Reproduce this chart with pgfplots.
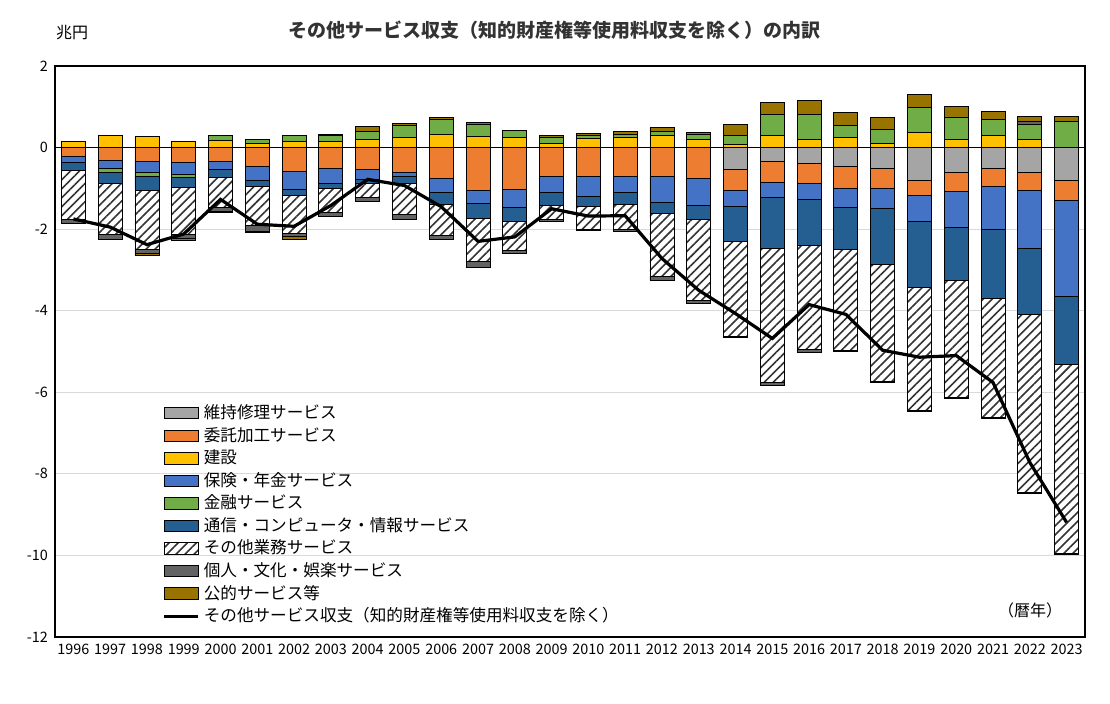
\documentclass[border=0pt]{standalone}
\usepackage{pgfplots}
\pgfplotsset{compat=1.18}
\usepackage{pgfplotstable}
\usepackage{fontspec}
\setmainfont{Noto Sans CJK JP}
\usetikzlibrary{patterns.meta}
\definecolor{cgr}{HTML}{A5A5A5}
\definecolor{cor}{HTML}{ED7D31}
\definecolor{cye}{HTML}{FFC000}
\definecolor{cbl}{HTML}{4472C4}
\definecolor{cgn}{HTML}{70AD47}
\definecolor{cdk}{HTML}{255E91}
\definecolor{cpe}{HTML}{636363}
\definecolor{col}{HTML}{997300}
\pgfplotstableread{
x gr or bl gn dk ht pe ol ye yp gp pp op ln
0 0 .21 .16 0 .20 1.20 .10 0 0 .14 0 0 .02 -1.75
1 0 .31 .19 .10 .29 1.25 .10 0 0 .30 0 0 0 -1.95
2 0 .33 .29 .08 .34 1.45 .10 .06 0 .28 0 0 0 -2.38
3 0 .36 .29 .08 .25 1.16 .08 .06 0 .16 0 0 0 -2.12
4 0 .33 .20 0 .19 .75 .10 .03 0 .18 .12 0 0 -1.27
5 0 .46 .34 0 .16 .94 .15 .04 0 .10 .10 0 0 -1.88
6 0 .58 .45 0 .14 .94 .08 .07 0 .14 .16 0 0 -1.93
7 0 .50 .38 0 .12 .60 .08 0 0 .14 .15 0 .04 -1.42
8 0 .53 .25 0 .09 .34 .12 0 0 .20 .20 0 .12 -0.78
9 0 .60 .10 0 .18 .75 .12 0 0 .25 .29 0 .06 -0.93
10 0 .76 .34 0 .29 .76 .10 0 0 .33 .36 0 .05 -1.45
11 0 1.05 .33 0 .35 1.06 .14 0 0 .28 .29 0 .05 -2.30
12 0 1.02 .44 0 .34 .71 .08 0 0 .24 .19 0 0 -2.19
13 0 .70 .39 0 .32 .34 .07 0 0 .10 .16 0 .04 -1.50
14 0 .70 .49 0 .25 .57 .03 0 0 .22 .08 0 .05 -1.68
15 0 .70 .41 0 .28 .62 .05 0 0 .26 .07 0 .07 -1.67
16 0 .70 .64 0 .27 1.54 .10 0 0 .30 .10 0 .09 -2.72
17 0 .76 .65 0 .34 2.00 .07 0 0 .20 .12 0 .05 -3.50
18 .54 .51 .39 0 .87 2.31 .03 0 0 .08 .22 0 .27 -4.07
19 .33 .53 .37 0 1.24 3.29 .06 0 0 .30 .51 0 .29 -4.68
20 .38 .49 .39 0 1.14 2.56 .06 0 0 .20 .61 0 .34 -3.85
21 .46 .53 .47 0 1.03 2.48 .02 0 0 .24 .31 0 .32 -4.09
22 .50 .49 .51 0 1.36 2.88 .02 0 0 .11 .33 0 .29 -4.97
23 .80 .37 .65 0 1.61 3.02 .02 0 0 .36 .62 0 .33 -5.14
24 .62 .45 .89 0 1.29 2.87 .02 0 0 .20 .55 0 .26 -5.10
25 .50 .45 1.05 0 1.70 2.92 .02 0 0 .30 .39 0 .20 -5.76
26 .60 .45 1.43 0 1.61 4.37 .02 0 0 .20 .36 .07 .14 -7.72
27 .80 .49 2.37 0 1.65 4.64 .02 0 0 0 .65 0 .12 -9.19
}\data
\pgfplotsset{
  base/.style={scale only axis, width=515pt, height=285.5pt,
    xmin=-0.5, xmax=27.5, ymin=-12, ymax=2},
  bb/.style={ybar stacked, bar width=12pt, draw=none}
}
\begin{document}
\begin{tikzpicture}
\useasboundingbox (-27.5pt,-33pt) rectangle (527.5pt,318.5pt);
% negative stack
\begin{axis}[base, bb,
  ytick={-12,-10,...,2}, ymajorgrids, grid style={gray!30},
  xtick=data, xticklabels={1996,1997,1998,1999,2000,2001,2002,2003,2004,2005,2006,2007,2008,2009,2010,2011,2012,2013,2014,2015,2016,2017,2018,2019,2020,2021,2022,2023},
  tick style={draw=none},
  ticklabel style={font=\fontsize{7.2}{8}\selectfont},
  /pgf/number format/assume math mode=true,
  axis line style={black, line width=0.6pt}]
\addplot[fill=cgr] table[x=x, y expr=-\thisrow{gr}] {\data};
\addplot[fill=cor] table[x=x, y expr=-\thisrow{or}] {\data};
\addplot[fill=cbl] table[x=x, y expr=-\thisrow{bl}] {\data};
\addplot[fill=cgn] table[x=x, y expr=-\thisrow{gn}] {\data};
\addplot[fill=cdk] table[x=x, y expr=-\thisrow{dk}] {\data};
\addplot[fill=white, postaction={pattern={Lines[angle=45,distance=3.2pt,line width=0.8pt]}, pattern color=black!80}] table[x=x, y expr=-\thisrow{ht}] {\data};
\addplot[fill=cpe] table[x=x, y expr=-\thisrow{pe}] {\data};
\addplot[fill=col] table[x=x, y expr=-\thisrow{ol}] {\data};
\end{axis}
% positive stack
\begin{axis}[base, bb, hide axis]
\addplot[fill=cye] table[x=x, y=yp] {\data};
\addplot[fill=cgn] table[x=x, y=gp] {\data};
\addplot[fill=cpe] table[x=x, y=pp] {\data};
\addplot[fill=col] table[x=x, y=op] {\data};
\end{axis}
% line + legend
\begin{axis}[base, hide axis, clip=false,
  legend style={at={(0.102,0.418)}, anchor=north west, draw=none, fill=none,
    font=\fontsize{8.3}{9}\selectfont, row sep=-1.2pt, inner sep=1pt},
  legend cell align=left]
\addlegendimage{area legend, fill=cgr, draw=none}\addlegendentry{維持修理サービス}
\addlegendimage{area legend, fill=cor, draw=none}\addlegendentry{委託加工サービス}
\addlegendimage{area legend, fill=cye, draw=none}\addlegendentry{建設}
\addlegendimage{area legend, fill=cbl, draw=none}\addlegendentry{保険・年金サービス}
\addlegendimage{area legend, fill=cgn, draw=none}\addlegendentry{金融サービス}
\addlegendimage{area legend, fill=cdk, draw=none}\addlegendentry{通信・コンピュータ・情報サービス}
\addlegendimage{area legend, draw=none, pattern={Lines[angle=45,distance=3.2pt,line width=0.8pt]}, pattern color=black!80}\addlegendentry{その他業務サービス}
\addlegendimage{area legend, fill=cpe, draw=none}\addlegendentry{個人・文化・娯楽サービス}
\addlegendimage{area legend, fill=col, draw=none}\addlegendentry{公的サービス等}
\draw[black, line width=0.6pt] (axis cs:-0.5,0) -- (axis cs:27.5,0);
\addplot[black, line width=1.6pt, mark=none] table[x=x, y=ln] {\data};
\addlegendentry{その他サービス収支（知的財産権等使用料収支を除く）}
\node[font=\fontsize{9.5}{10}\selectfont\bfseries, text=black!80] at ([yshift=18pt]rel axis cs:0.485,1) {その他サービス収支（知的財産権等使用料収支を除く）の内訳};
\node[font=\fontsize{8}{9}\selectfont] at ([xshift=8.5pt,yshift=16.5pt]rel axis cs:0,1) {兆円};
\node[font=\fontsize{8}{9}\selectfont] at ([xshift=487.5pt,yshift=13.5pt]rel axis cs:0,0) {（暦年）};
\end{axis}
\end{tikzpicture}
\end{document}
